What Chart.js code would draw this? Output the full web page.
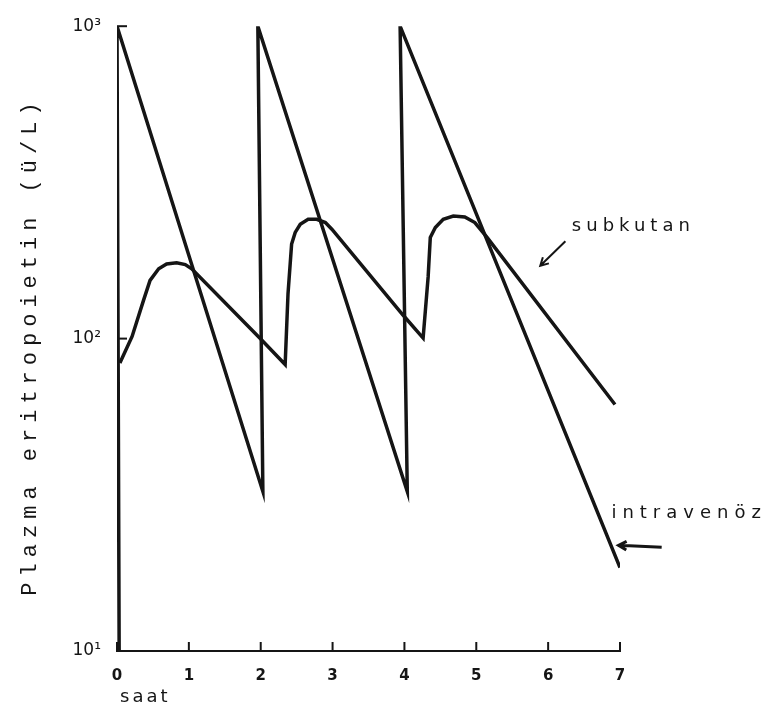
<!DOCTYPE html>
<html>
<head>
<meta charset="utf-8">
<title>Plazma eritropoietin</title>
<script src="https://cdn.jsdelivr.net/npm/chart.js@4.4.1/dist/chart.umd.min.js"></script>
<style>
  html, body { margin: 0; padding: 0; background: #fff; }
  #wrap { width: 768px; height: 726px; }
</style>
</head>
<body>
<div id="wrap"><canvas id="chart" width="768" height="726"></canvas></div>
<script>
// hours
var xTicks = [0, 1, 2, 3, 4, 5, 6, 7];
var yTicks = [10, 100, 1000];
var yTickLabels = ['10\u00b9', '10\u00b2', '10\u00b3'];

// intravenöz: bolus every 2 h, log-linear decay
var ivHours = [0.03, 0, 2.03, 1.96, 4.04, 3.94, 7.0];
var ivLevel = [10, 1000, 32.4, 1000, 32.4, 1000, 18.5];

// subkutan: slow absorption humps
var scHours = [0.04, 0.21, 0.37, 0.46, 0.58, 0.69, 0.83, 0.95, 1.04, 2.01, 2.34,
               2.38, 2.43, 2.48, 2.55, 2.66, 2.78, 2.90, 2.99, 3.98, 4.26,
               4.33, 4.36, 4.43, 4.54, 4.68, 4.84, 4.98, 5.15, 6.93];
var scLevel = [83.6, 101.6, 132.8, 153.6, 167.3, 173.4, 174.8, 172.6, 167.3, 99.1, 82.6,
               139.4, 200.8, 218.7, 232.3, 240.9, 240.9, 235.2, 224.0, 119.0, 100.4,
               157.5, 210.8, 226.7, 240.9, 246.9, 245.1, 235.2, 210.8, 61.5];

function toPoints(xs, ys) {
  return xs.map(function(x, i) { return { x: x, y: ys[i] }; });
}

var ink = '#151515';

var notes = {
  id: 'notes',
  afterDraw: function(chart) {
    var ctx = chart.ctx;
    var xs = chart.scales.x;
    var ys = chart.scales.y;
    var area = chart.chartArea;

    ctx.save();
    ctx.strokeStyle = ink;
    ctx.fillStyle = ink;
    ctx.lineWidth = 2;

    // inward tick marks
    xTicks.forEach(function(v) {
      var px = xs.getPixelForValue(v);
      ctx.beginPath();
      ctx.moveTo(px, area.bottom);
      ctx.lineTo(px, area.bottom - 9);
      ctx.stroke();
    });
    [100, 1000].forEach(function(v) {
      var py = ys.getPixelForValue(v);
      ctx.beginPath();
      ctx.moveTo(area.left, py);
      ctx.lineTo(area.left + 10, py);
      ctx.stroke();
    });

    // y title
    ctx.save();
    ctx.translate(30, 346);
    ctx.rotate(-Math.PI / 2);
    ctx.font = '22px "Liberation Mono", monospace';
    ctx.letterSpacing = '6px';
    ctx.textAlign = 'center';
    ctx.textBaseline = 'middle';
    ctx.fillText('Plazma eritropoietin (\u00fc/L)', 0, 0);
    ctx.restore();

    ctx.textBaseline = 'middle';
    ctx.textAlign = 'left';
    ctx.font = '18px "DejaVu Sans", sans-serif';
    ctx.letterSpacing = '3px';
    ctx.fillText('saat', area.left + 3, area.bottom + 46);

    ctx.letterSpacing = '5px';
    ctx.fillText('subkutan', xs.getPixelForValue(6.33), ys.getPixelForValue(228));
    ctx.letterSpacing = '6px';
    ctx.fillText('intraven\u00f6z', xs.getPixelForValue(6.88), ys.getPixelForValue(27.6));

    // arrows
    function arrow(x1, y1, x2, y2) {
      var a = Math.atan2(y2 - y1, x2 - x1);
      ctx.beginPath();
      ctx.moveTo(x1, y1);
      ctx.lineTo(x2, y2);
      ctx.moveTo(x2 - 9 * Math.cos(a - 0.5), y2 - 9 * Math.sin(a - 0.5));
      ctx.lineTo(x2, y2);
      ctx.lineTo(x2 - 9 * Math.cos(a + 0.5), y2 - 9 * Math.sin(a + 0.5));
      ctx.stroke();
    }
    ctx.lineWidth = 2;
    arrow(xs.getPixelForValue(6.24), ys.getPixelForValue(205),
          xs.getPixelForValue(5.89), ys.getPixelForValue(171));
    ctx.lineWidth = 3;
    arrow(xs.getPixelForValue(7.58), ys.getPixelForValue(21.5),
          xs.getPixelForValue(6.98), ys.getPixelForValue(21.8));
    ctx.restore();
  }
};

new Chart(document.getElementById('chart'), {
  type: 'line',
  data: {
    datasets: [
      {
        label: 'intravenöz',
        data: toPoints(ivHours, ivLevel),
        borderColor: ink,
        borderWidth: 3.5,
        pointRadius: 0,
        tension: 0,
        fill: false
      },
      {
        label: 'subkutan',
        data: toPoints(scHours, scLevel),
        borderColor: ink,
        borderWidth: 3.5,
        pointRadius: 0,
        tension: 0,
        fill: false
      }
    ]
  },
  options: {
    responsive: false,
    animation: false,
    layout: { padding: { left: 0, top: 20, right: 148, bottom: 0 } },
    plugins: {
      legend: { display: false },
      tooltip: { enabled: false }
    },
    scales: {
      x: {
        type: 'linear',
        min: 0,
        max: 7,
        afterBuildTicks: function(axis) {
          axis.ticks = xTicks.map(function(v) { return { value: v }; });
        },
        afterFit: function(axis) { axis.height = 75; },
        grid: { display: false, drawTicks: false },
        border: { display: true, color: ink, width: 2 },
        ticks: {
          color: ink,
          padding: 16,
          font: { family: 'DejaVu Sans', size: 15, weight: 'bold' }
        }
      },
      y: {
        type: 'logarithmic',
        min: 10,
        max: 1000,
        afterBuildTicks: function(axis) {
          axis.ticks = yTicks.map(function(v) { return { value: v }; });
        },
        afterFit: function(axis) { axis.width = 117; },
        grid: { display: false, drawTicks: false },
        border: { display: false },
        ticks: {
          color: ink,
          padding: 16,
          font: { family: 'DejaVu Sans', size: 17 },
          callback: function(v) {
            var i = yTicks.indexOf(v);
            return i >= 0 ? yTickLabels[i] : '';
          }
        }
      }
    }
  },
  plugins: [notes]
});
</script>
</body>
</html>
